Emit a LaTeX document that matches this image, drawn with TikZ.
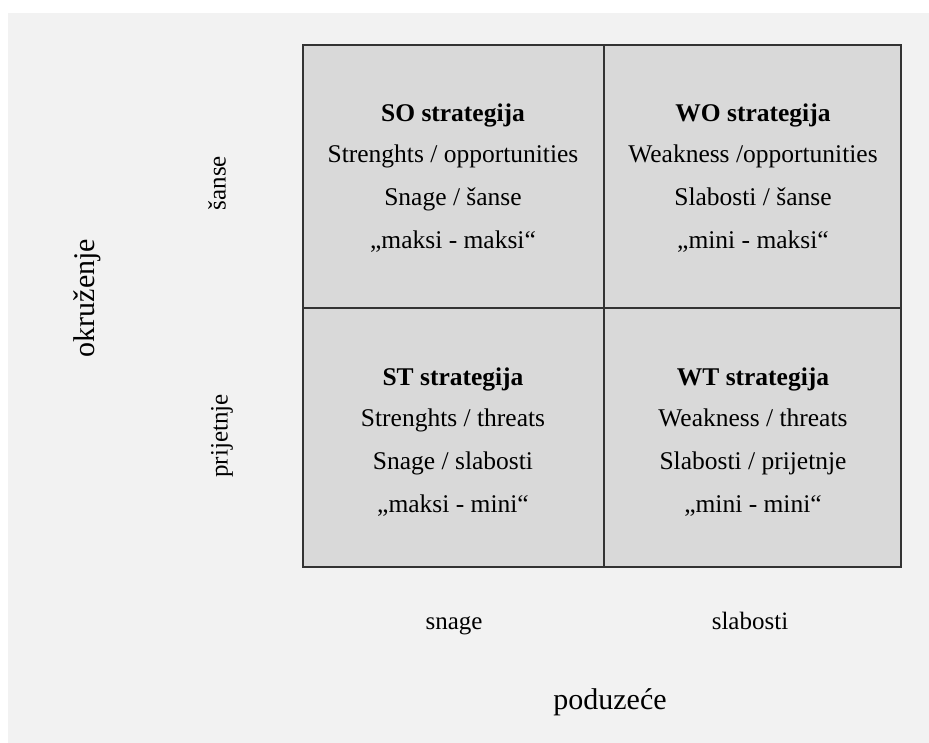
\documentclass[tikz,border=0pt]{standalone}
\usepackage{fontspec}
\setmainfont{Liberation Serif}
\definecolor{bgpanel}{HTML}{F2F2F2}
\definecolor{cellfill}{HTML}{D9D9D9}
\definecolor{gridline}{HTML}{333333}
\begin{document}
\begin{tikzpicture}[x=1pt,y=-1pt,
  celltxt/.style={anchor=base,inner sep=0pt,font=\fontsize{25.5}{30}\selectfont},
  celltitle/.style={celltxt,font=\fontsize{25.5}{30}\selectfont\bfseries},
  smalllabel/.style={inner sep=0pt,font=\fontsize{25}{30}\selectfont},
  biglabel/.style={inner sep=0pt,font=\fontsize{30}{36}\selectfont},
  cellbox/.style={draw=gridline,line width=2pt,fill=cellfill}]
\useasboundingbox (0,0) rectangle (929,743);
\fill[white] (0,0) rectangle (929,743);
\fill[bgpanel] (8,13) rectangle (929,743);
% grid
\path[cellbox] (303,45) rectangle (901,567);
\coordinate (vt) at (604,45);
\coordinate (vb) at (604,567);
\coordinate (hl) at (303,308);
\coordinate (hr) at (901,308);
\draw[gridline,line width=2pt] (vt) -- (vb);
\draw[gridline,line width=2pt] (hl) -- (hr);
% SO
\node[celltitle] (so1) at (453,122) {SO strategija};
\node[celltxt] (so2) at (453,163) {Strenghts / opportunities};
\node[celltxt] (so3) at (453,206) {Snage / šanse};
\node[celltxt] (so4) at (453,249) {„maksi - maksi“};
% WO
\node[celltitle] (wo1) at (753,122) {WO strategija};
\node[celltxt] (wo2) at (753,163) {Weakness /opportunities};
\node[celltxt] (wo3) at (753,206) {Slabosti / šanse};
\node[celltxt] (wo4) at (753,249) {„mini - maksi“};
% ST
\node[celltitle] (st1) at (453,385) {ST strategija};
\node[celltxt] (st2) at (453,426) {Strenghts / threats};
\node[celltxt] (st3) at (453,469) {Snage / slabosti};
\node[celltxt] (st4) at (453,512) {„maksi - mini“};
% WT
\node[celltitle] (wt1) at (753,385) {WT strategija};
\node[celltxt] (wt2) at (753,426) {Weakness / threats};
\node[celltxt] (wt3) at (753,469) {Slabosti / prijetnje};
\node[celltxt] (wt4) at (753,512) {„mini - mini“};
% side labels
\node[smalllabel,rotate=90] (sanse) at (217,183) {šanse};
\node[smalllabel,rotate=90] (prij) at (222,436) {prijetnje};
\node[biglabel,rotate=90] (okr) at (87,298) {okruženje};
% bottom labels
\node[smalllabel,anchor=base] (snage) at (454,629) {snage};
\node[smalllabel,anchor=base] (slab) at (750,629) {slabosti};
\node[biglabel,anchor=base] (pod) at (610,709) {poduzeće};
\end{tikzpicture}
\end{document}
